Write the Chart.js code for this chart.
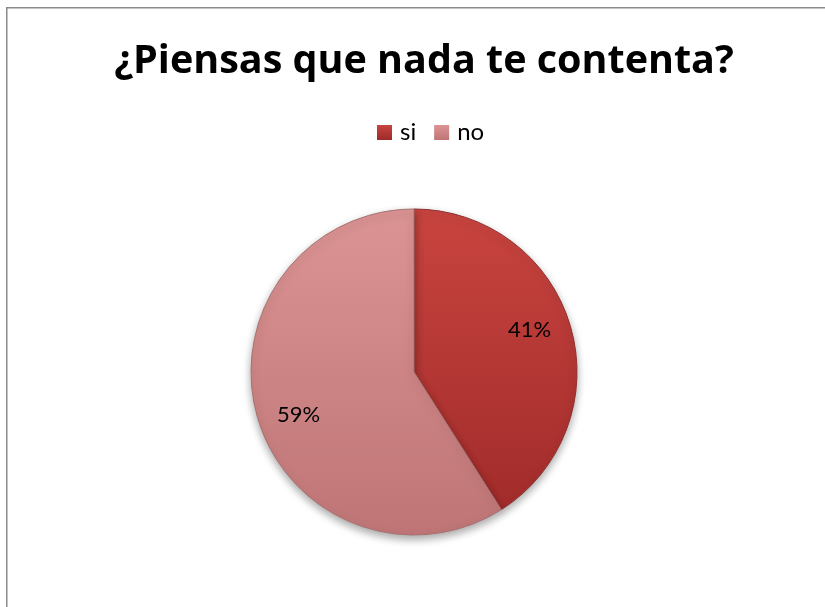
<!DOCTYPE html>
<html><head><meta charset="utf-8">
<script src="https://cdn.jsdelivr.net/npm/chart.js@4/dist/chart.umd.min.js"></script>
<style>html,body{margin:0;padding:0;background:#fff}#wrap{width:825px;height:607px;position:relative}</style>
</head><body><div id="wrap"><canvas id="c" width="825" height="607"></canvas></div>
<script>
const titleText = '¿Piensas que nada te contenta?';
const categories = ['si', 'no'];
const values = [41, 59];
const labelsPct = ['41%', '59%'];
const topColors = ['#c9443f', '#dc9494'];
const bottomColors = ['#9e2a29', '#bf7575'];
const R = 163;

function grad(ctx, i) {
  const chart = ctx.chart;
  const a = chart.chartArea;
  if (!a) return topColors[i];
  const cy = (a.top + a.bottom) / 2;
  const g = chart.ctx.createLinearGradient(0, cy - R, 0, cy + R);
  g.addColorStop(0, topColors[i]);
  g.addColorStop(1, bottomColors[i]);
  return g;
}

const frame = {
  id: 'frame',
  beforeDraw(chart) {
    const c = chart.ctx;
    c.save();
    c.strokeStyle = '#8a8a8a';
    c.lineWidth = 1.5;
    c.beginPath();
    c.moveTo(6.75, 607);
    c.lineTo(6.75, 7.75);
    c.lineTo(825, 7.75);
    c.stroke();
    // title
    c.fillStyle = '#000';
    c.font = 'bold 39.5px "Open Sans", Lato, sans-serif';
    c.textAlign = 'center';
    c.textBaseline = 'alphabetic';
    c.fillText(titleText, 424, 73);
    // legend
    c.font = '24px Lato, "Open Sans", sans-serif';
    c.textAlign = 'left';
    c.textBaseline = 'middle';
    let x = 377;
    categories.forEach((t, i) => {
      const g = c.createLinearGradient(0, 125, 0, 140);
      g.addColorStop(0, topColors[i]);
      g.addColorStop(1, bottomColors[i]);
      c.fillStyle = g;
      c.fillRect(x, 125, 15, 15);
      c.fillStyle = '#000';
      c.fillText(t, x + 23, 132.5);
      x += 23 + c.measureText(t).width + 18;
    });
    c.restore();
  }
};
const shadow = {
  id: 'shadow',
  beforeDatasetDraw(chart) {
    const c = chart.ctx;
    c.save();
    c.shadowColor = 'rgba(0,0,0,0.35)';
    c.shadowBlur = 9;
    c.shadowOffsetY = 4;
  },
  afterDatasetDraw(chart) { chart.ctx.restore(); }
};
const pctLabels = {
  id: 'pctLabels',
  afterDatasetsDraw(chart) {
    const c = chart.ctx;
    const meta = chart.getDatasetMeta(0);
    c.save();
    c.font = '22px Lato, "Open Sans", sans-serif';
    c.fillStyle = '#000';
    c.textAlign = 'center';
    c.textBaseline = 'middle';
    meta.data.forEach((arc, i) => {
      const p = arc.getProps(['x','y','startAngle','endAngle','outerRadius'], true);
      const m = (p.startAngle + p.endAngle) / 2 - 0.07;
      const r = p.outerRadius * 0.755;
      c.fillText(labelsPct[i], p.x + Math.cos(m) * r, p.y + Math.sin(m) * r);
    });
    c.restore();
  }
};

new Chart(document.getElementById('c'), {
  type: 'pie',
  data: {
    labels: categories,
    datasets: [{
      data: values,
      radius: R,
      backgroundColor: (ctx) => grad(ctx, ctx.dataIndex),
      borderColor: ['#8e3030', '#a87070'],
      borderWidth: 1
    }]
  },
  options: {
    responsive: false,
    animation: false,
    layout: { padding: { top: 150, bottom: 13, left: 3, right: 0 } },
    plugins: {
      tooltip: { enabled: false },
      title: { display: false },
      legend: { display: false }
    }
  },
  plugins: [frame, shadow, pctLabels]
});
</script></body></html>
